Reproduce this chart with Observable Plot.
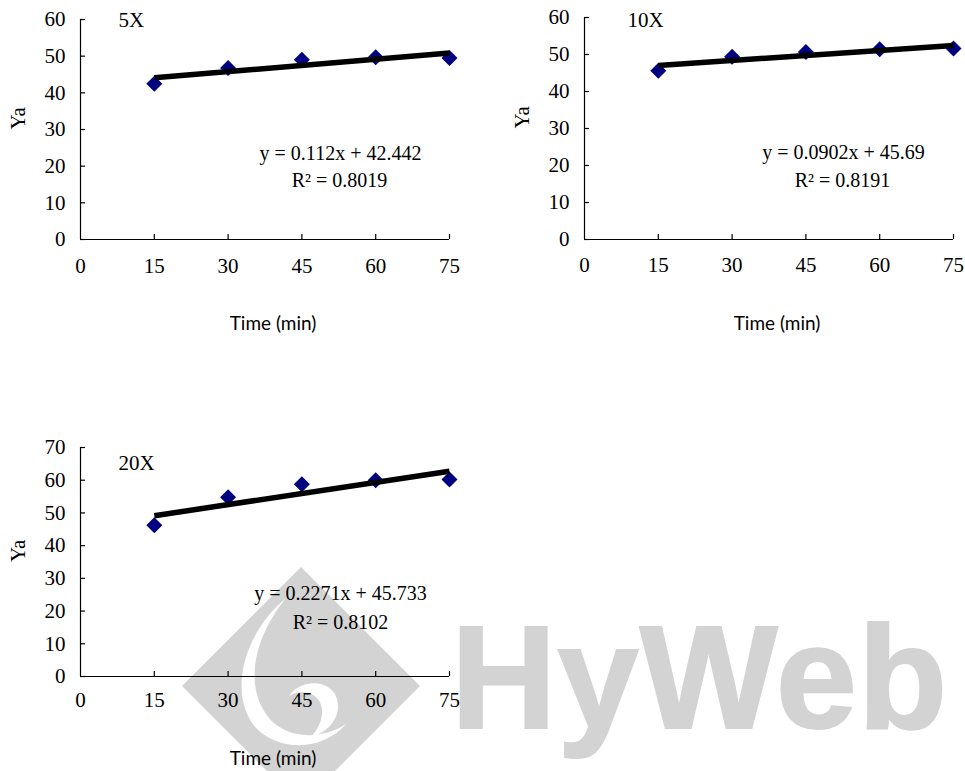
<!DOCTYPE html>
<html>
<head>
<meta charset="utf-8">
<script src="https://cdn.jsdelivr.net/npm/d3@7"></script>
<script src="https://cdn.jsdelivr.net/npm/@observablehq/plot@0.6"></script>
<style>
  body { margin: 0; background: #fff; }
  #wrap { position: relative; width: 965px; height: 771px; overflow: hidden; background: #fff; }
  .panel { position: absolute; z-index: 1; }
  .panel svg { overflow: visible; }
  #wm { position: absolute; left: 0; top: 0; z-index: 0; }
</style>
</head>
<body>
<div id="wrap"></div>
<script>
// ---- data ----
const times = [15, 30, 45, 60, 75];
const panelNames = ["5X", "10X", "20X"];
const ya5 = [42.5, 46.8, 49.0, 49.7, 49.5];
const ya10 = [45.6, 49.4, 50.7, 51.4, 51.6];
const ya20 = [46.2, 54.8, 58.8, 60.0, 60.2];
const slopes = [0.112, 0.0902, 0.2271];
const intercepts = [42.442, 45.69, 45.733];
const equationLabels = ["y = 0.112x + 42.442", "y = 0.0902x + 45.69", "y = 0.2271x + 45.733"];
const r2Labels = ["R² = 0.8019", "R² = 0.8191", "R² = 0.8102"];
const xTicks = [0, 15, 30, 45, 60, 75];
const yTicks60 = [0, 10, 20, 30, 40, 50, 60];
const yTicks70 = [0, 10, 20, 30, 40, 50, 60, 70];
const xLabel = "Time (min)";
const yLabel = "Ya";

const series = [ya5, ya10, ya20];
const yTickSets = [yTicks60, yTicks60, yTicks70];

// ---- layout ----
const layouts = [
  {left: 0,   top: 0,   width: 480, height: 340, mL: 80, mR: 31, mT: 19, mB: 101,
   nameD: [38, 1], eqD: [260, 134], r2D: [259, 161], xPad: 19, xLabDy: 84},
  {left: 490, top: 0,   width: 475, height: 340, mL: 94, mR: 12, mT: 17, mB: 101,
   nameD: [43, 3], eqD: [259, 135], r2D: [258, 163], xPad: 18, xLabDy: 84},
  {left: 0,   top: 430, width: 480, height: 341, mL: 80, mR: 31, mT: 17, mB: 95,
   nameD: [38, 16], eqD: [260, 146], r2D: [260, 175], xPad: 16, xLabDy: 82}
];

const wrap = document.getElementById("wrap");

// ---- watermark (behind the charts) ----
const wm = d3.select(wrap).append("svg").attr("id", "wm").attr("width", 965).attr("height", 771);
const wmGray = "#d3d3d3";
wm.append("path").attr("fill", wmGray)
  .attr("d", "M301,567 L420,686 L301,805 L182,686 Z");
wm.append("path").attr("fill", "#fff")
  .attr("d", "M286,598 C240,636 228,700 258,730 C282,752 324,750 346,724 C318,742 282,738 266,714 C246,686 252,640 286,598 Z");
wm.append("path").attr("fill", "#fff")
  .attr("d", "M289,696 C303,676 338,680 338,706 C338,724 322,734 310,738 C326,722 326,700 311,694 C303,691 295,692 289,696 Z");
wm.append("text").attr("x", 451).attr("y", 728)
  .attr("fill", wmGray).attr("font-family", "Liberation Sans, Arial, sans-serif")
  .attr("font-weight", "700").attr("font-size", 146).attr("letter-spacing", 1)
  .attr("stroke", wmGray).attr("stroke-width", 2)
  .text("HyWeb");

// ---- panels ----
panelNames.forEach((name, i) => {
  const L = layouts[i];
  const yt = yTickSets[i];
  const yMax = d3.max(yt);
  const data = times.map((t, j) => ({t, ya: series[i][j]}));
  const ext = d3.extent(times);
  const trend = ext.map(t => ({t, ya: slopes[i] * t + intercepts[i]}));
  const frameW = L.width - L.mL - L.mR;
  const frameH = L.height - L.mT - L.mB;

  const chart = Plot.plot({
    width: L.width,
    height: L.height,
    marginLeft: L.mL, marginRight: L.mR, marginTop: L.mT, marginBottom: L.mB,
    style: {background: "transparent", fontFamily: "'Liberation Serif', 'Times New Roman', serif", fontSize: "21px", color: "#000", overflow: "visible"},
    x: {domain: [0, 75]},
    y: {domain: [0, yMax]},
    marks: [
      Plot.axisX({ticks: xTicks, tickSize: 0, tickPadding: L.xPad, tickFormat: d => d, label: null, fontSize: 21}),
      Plot.axisY({ticks: yt, tickSize: 0, tickPadding: 15, tickFormat: d => d, label: null, fontSize: 21}),
      Plot.ruleX([0], {stroke: "#000", strokeWidth: 1.2}),
      Plot.ruleY([0], {stroke: "#000", strokeWidth: 1.2}),
      Plot.tickX(xTicks.filter(d => d > 0), {x: d => d, insetTop: frameH - 5, stroke: "#000", strokeWidth: 1.2}),
      Plot.tickY(yt, {y: d => d, insetRight: frameW - 5, stroke: "#000", strokeWidth: 1.2}),
      Plot.dot(data, {x: "t", y: "ya", symbol: "diamond2", r: 7.2, fill: "#000080", stroke: "none"}),
      Plot.line(trend, {x: "t", y: "ya", stroke: "#000", strokeWidth: 5.5, strokeLinecap: "butt"}),
      Plot.text([name], {text: d => d, frameAnchor: "top-left", lineAnchor: "middle", dx: L.nameD[0], dy: L.nameD[1], textAnchor: "start", fontSize: 21}),
      Plot.text([equationLabels[i]], {text: d => d, frameAnchor: "top-left", lineAnchor: "middle", dx: L.eqD[0], dy: L.eqD[1], textAnchor: "middle", fontSize: 20}),
      Plot.text([r2Labels[i]], {text: d => d, frameAnchor: "top-left", lineAnchor: "middle", dx: L.r2D[0], dy: L.r2D[1], textAnchor: "middle", fontSize: 20}),
      Plot.text([yLabel], {text: d => d, frameAnchor: "left", lineAnchor: "middle", dx: -62, rotate: -90, fontSize: 21}),
      Plot.text([xLabel], {text: d => d, frameAnchor: "bottom", lineAnchor: "middle", dx: 8, dy: L.xLabDy, fontSize: 19, fontFamily: "Lato, 'Open Sans', sans-serif"})
    ]
  });
  const div = document.createElement("div");
  div.className = "panel";
  div.style.left = L.left + "px";
  div.style.top = L.top + "px";
  div.appendChild(chart);
  wrap.appendChild(div);
});
</script>
</body>
</html>
